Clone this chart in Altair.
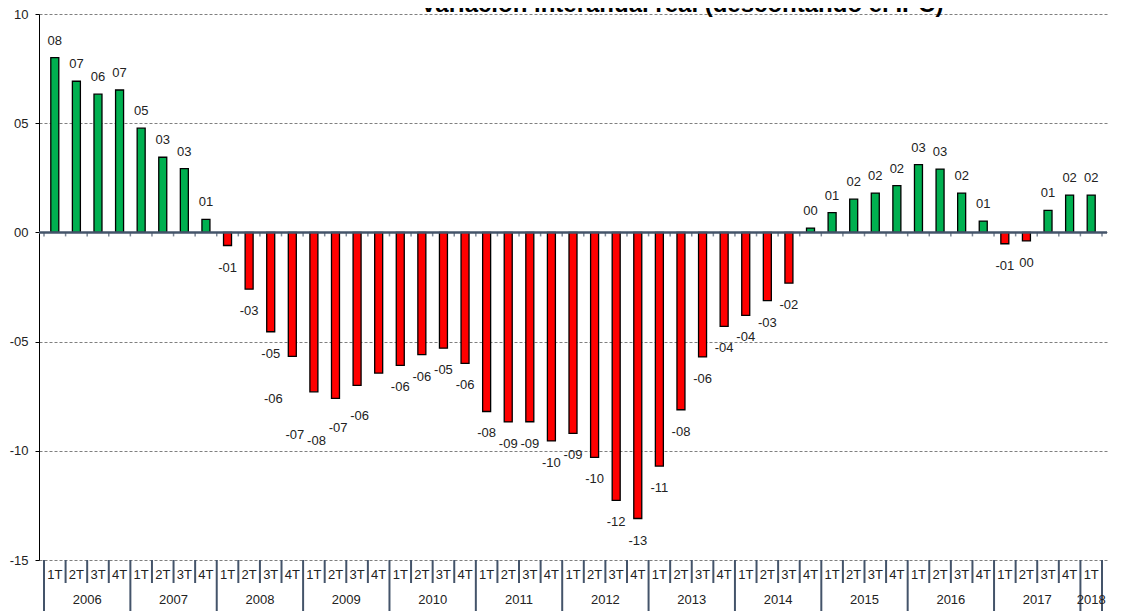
import altair as alt
import pandas as pd

# ---- data ----
title_text = "Variación interanual real (descontando el IPC)"
years = ["2006", "2007", "2008", "2009", "2010", "2011", "2012",
         "2013", "2014", "2015", "2016", "2017", "2018"]
quarters = ["1T", "2T", "3T", "4T"]
values = [
    8.0, 6.92, 6.33, 6.52,      # 2006
    4.77, 3.44, 2.92, 0.6,      # 2007
    -0.6, -2.6, -4.55, -5.68,   # 2008
    -7.3, -7.6, -7.0, -6.44,    # 2009
    -6.09, -5.6, -5.3, -6.0,    # 2010
    -8.2, -8.68, -8.67, -9.55,  # 2011
    -9.2, -10.3, -12.27, -13.1, # 2012
    -10.7, -8.12, -5.7, -4.3,   # 2013
    -3.8, -3.12, -2.32, 0.2,    # 2014
    0.91, 1.52, 1.8, 2.14,      # 2015
    3.1, 2.9, 1.8, 0.52,        # 2016
    -0.52, -0.39, 1.01, 1.71,   # 2017
    1.71,                       # 2018
]
y_ticks = [-15, -10, -5, 0, 5, 10]

n = len(values)
df = pd.DataFrame({
    "idx": list(range(n)),
    "year": [years[i // 4] for i in range(n)],
    "quarter": [quarters[i % 4] for i in range(n)],
    "v": values,
})
bnd = pd.DataFrame({
    "b": list(range(n + 1)),
    "long": [(b == n) or (b % 4 == 0) for b in range(n + 1)],
})

SLATE = "#44546A"
TXT = "#222222"
FONT = "Liberation Sans"
W, H = 1068, 546

xs = alt.Scale(domain=[0, n], nice=False, zero=False)
ys = alt.Scale(domain=[-15, 10], nice=False, zero=False)

yaxis = alt.Axis(
    values=y_ticks, title=None, grid=True, gridDash=[3, 2], gridColor="#808080",
    gridWidth=1, domainColor="black", domainWidth=1, tickColor="black", tickSize=4,
    labelPadding=7, labelFontSize=13, labelColor=TXT, labelFont=FONT,
    labelExpr="(datum.value < 0 ? '-' : '') + format(abs(datum.value), '02d')",
)
yenc = alt.Y("v:Q", scale=ys, axis=yaxis)

base = alt.Chart(df).transform_calculate(
    pos="datum.idx + 0.5",
    lbl="(round(datum.v) < 0 ? '-' : '') + format(abs(round(datum.v)), '02d')",
)
xenc = alt.X("pos:Q", scale=xs, axis=None)

bars = base.mark_bar(orient="vertical", size=8, stroke="black", strokeWidth=1.3).encode(
    x=xenc, y=yenc, y2=alt.datum(0),
    color=alt.when(alt.datum.v >= 0).then(alt.value("#00B050")).otherwise(alt.value("#FF0000")),
)

zero_line = alt.Chart(pd.DataFrame({"z": [0]})).mark_rule(color=SLATE, strokeWidth=2.5).encode(
    y=alt.datum(0)
)

bchart = alt.Chart(bnd)
zticks = bchart.mark_tick(orient="vertical", size=4, thickness=1.5, yOffset=2, color=SLATE).encode(
    x=alt.X("b:Q", scale=xs, axis=None), y=alt.datum(0)
)
sep_short = bchart.transform_filter("!datum.long").mark_rule(color=SLATE, strokeWidth=2).encode(
    x=alt.X("b:Q", scale=xs, axis=None), y=alt.value(H), y2=alt.value(H + 23)
)
sep_long = bchart.transform_filter("datum.long").mark_rule(color=SLATE, strokeWidth=2).encode(
    x=alt.X("b:Q", scale=xs, axis=None), y=alt.value(H), y2=alt.value(H + 60)
)

q_labels = base.mark_text(fontSize=13, color=TXT, font=FONT, baseline="middle").encode(
    x=xenc, y=alt.value(H + 15), text="quarter:N"
)
y_labels = base.transform_aggregate(mid="mean(pos)", groupby=["year"]).mark_text(
    fontSize=13, color=TXT, font=FONT, baseline="middle"
).encode(x=alt.X("mid:Q", scale=xs, axis=None), y=alt.value(H + 40), text="year:N")

pos_lbl = base.transform_filter("datum.v >= 0").mark_text(
    fontSize=13, color=TXT, font=FONT, baseline="alphabetic", dy=-13
).encode(x=xenc, y=yenc, text="lbl:N")
neg_lbl = base.transform_filter("datum.v < 0 && (datum.idx < 11 || datum.idx > 15)").mark_text(
    fontSize=13, color=TXT, font=FONT, baseline="alphabetic", dy=26
).encode(x=xenc, y=yenc, text="lbl:N")
neg_lbl2 = base.transform_filter("datum.v < 0 && datum.idx >= 11 && datum.idx <= 15").mark_text(
    fontSize=13, color=TXT, font=FONT, baseline="alphabetic", dy=47, dx=-19
).encode(x=xenc, y=yenc, text="lbl:N")

title = alt.Chart(pd.DataFrame({"t": [title_text]})).mark_text(
    fontSize=24, fontWeight="bold", font=FONT, color="black", baseline="alphabetic", align="center"
).encode(x=alt.value(643), y=alt.value(-2.5), text="t:N")

chart = alt.layer(
    bars, zero_line, zticks, sep_short, sep_long, q_labels, y_labels,
    pos_lbl, neg_lbl, neg_lbl2, title,
).properties(
    width=W, height=H,
    padding={"left": 31, "top": 6, "right": 7, "bottom": 51},
    autosize=alt.AutoSizeParams(type="none"),
).configure(font=FONT).configure_view(strokeWidth=0)

chart.save("out.html", embed_options={"renderer": "svg", "actions": False})
